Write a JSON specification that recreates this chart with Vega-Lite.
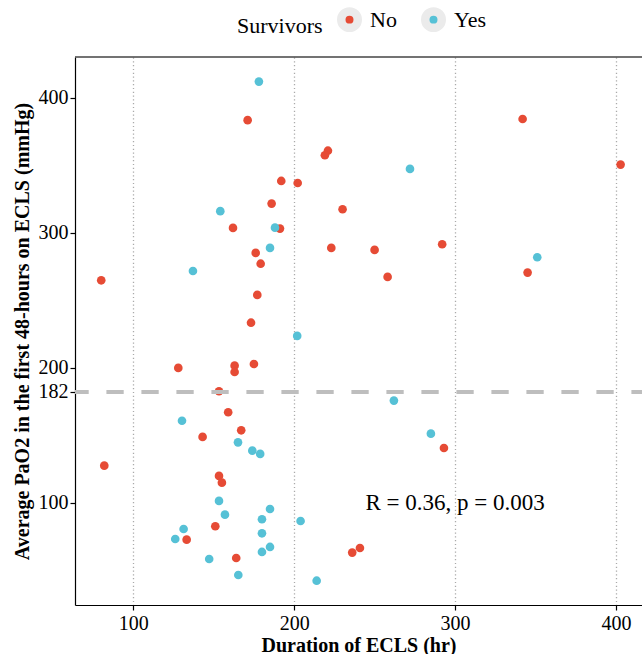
{
  "$schema": "https://vega.github.io/schema/vega-lite/v6.json",
  "width": 567,
  "height": 548,
  "autosize": {"type": "none"},
  "padding": {"left": 75, "top": 57, "right": 0, "bottom": 49},
  "background": "white",
  "config": {
    "view": {"stroke": null},
    "font": "Liberation Serif",
    "axis": {
      "labelFont": "Liberation Serif",
      "titleFont": "Liberation Serif",
      "labelFontSize": 20,
      "titleFontSize": 20,
      "labelColor": "#000000",
      "titleColor": "#000000",
      "domainColor": "#000000",
      "tickColor": "#000000",
      "domainWidth": 1.2,
      "tickWidth": 1.2,
      "tickSize": 5,
      "titleFontWeight": "bold"
    },
    "legend": {
      "labelFont": "Liberation Serif",
      "titleFont": "Liberation Serif"
    }
  },
  "datasets": {
    "pts": [
      {"Duration": 171.1, "PaO2": 383.3, "Survivors": "No"},
      {"Duration": 221.0, "PaO2": 360.7, "Survivors": "No"},
      {"Duration": 219.1, "PaO2": 357.3, "Survivors": "No"},
      {"Duration": 192.0, "PaO2": 338.3, "Survivors": "No"},
      {"Duration": 202.2, "PaO2": 336.8, "Survivors": "No"},
      {"Duration": 186.0, "PaO2": 321.5, "Survivors": "No"},
      {"Duration": 230.1, "PaO2": 317.3, "Survivors": "No"},
      {"Duration": 162.0, "PaO2": 303.5, "Survivors": "No"},
      {"Duration": 191.2, "PaO2": 303.0, "Survivors": "No"},
      {"Duration": 223.1, "PaO2": 288.7, "Survivors": "No"},
      {"Duration": 176.1, "PaO2": 285.0, "Survivors": "No"},
      {"Duration": 179.2, "PaO2": 277.0, "Survivors": "No"},
      {"Duration": 80.1, "PaO2": 264.7, "Survivors": "No"},
      {"Duration": 177.1, "PaO2": 253.9, "Survivors": "No"},
      {"Duration": 173.2, "PaO2": 233.3, "Survivors": "No"},
      {"Duration": 342.0, "PaO2": 384.2, "Survivors": "No"},
      {"Duration": 402.9, "PaO2": 350.4, "Survivors": "No"},
      {"Duration": 250.0, "PaO2": 287.2, "Survivors": "No"},
      {"Duration": 292.0, "PaO2": 291.4, "Survivors": "No"},
      {"Duration": 258.1, "PaO2": 267.2, "Survivors": "No"},
      {"Duration": 345.1, "PaO2": 270.4, "Survivors": "No"},
      {"Duration": 128.0, "PaO2": 199.8, "Survivors": "No"},
      {"Duration": 163.0, "PaO2": 201.5, "Survivors": "No"},
      {"Duration": 163.0, "PaO2": 196.8, "Survivors": "No"},
      {"Duration": 175.0, "PaO2": 202.7, "Survivors": "No"},
      {"Duration": 153.3, "PaO2": 182.5, "Survivors": "No"},
      {"Duration": 159.0, "PaO2": 167.0, "Survivors": "No"},
      {"Duration": 167.1, "PaO2": 153.6, "Survivors": "No"},
      {"Duration": 143.1, "PaO2": 148.7, "Survivors": "No"},
      {"Duration": 82.0, "PaO2": 127.4, "Survivors": "No"},
      {"Duration": 153.3, "PaO2": 119.8, "Survivors": "No"},
      {"Duration": 155.1, "PaO2": 114.8, "Survivors": "No"},
      {"Duration": 151.0, "PaO2": 82.5, "Survivors": "No"},
      {"Duration": 133.2, "PaO2": 72.6, "Survivors": "No"},
      {"Duration": 164.0, "PaO2": 59.0, "Survivors": "No"},
      {"Duration": 236.1, "PaO2": 63.0, "Survivors": "No"},
      {"Duration": 240.9, "PaO2": 66.4, "Survivors": "No"},
      {"Duration": 293.1, "PaO2": 140.5, "Survivors": "No"},
      {"Duration": 178.1, "PaO2": 411.9, "Survivors": "Yes"},
      {"Duration": 154.1, "PaO2": 315.9, "Survivors": "Yes"},
      {"Duration": 188.1, "PaO2": 303.7, "Survivors": "Yes"},
      {"Duration": 185.0, "PaO2": 288.7, "Survivors": "Yes"},
      {"Duration": 137.1, "PaO2": 271.6, "Survivors": "Yes"},
      {"Duration": 201.9, "PaO2": 223.5, "Survivors": "Yes"},
      {"Duration": 272.0, "PaO2": 347.2, "Survivors": "Yes"},
      {"Duration": 351.1, "PaO2": 281.8, "Survivors": "Yes"},
      {"Duration": 130.3, "PaO2": 160.7, "Survivors": "Yes"},
      {"Duration": 165.1, "PaO2": 144.7, "Survivors": "Yes"},
      {"Duration": 174.0, "PaO2": 138.5, "Survivors": "Yes"},
      {"Duration": 178.9, "PaO2": 136.1, "Survivors": "Yes"},
      {"Duration": 153.3, "PaO2": 101.3, "Survivors": "Yes"},
      {"Duration": 185.0, "PaO2": 95.3, "Survivors": "Yes"},
      {"Duration": 157.0, "PaO2": 91.1, "Survivors": "Yes"},
      {"Duration": 180.0, "PaO2": 87.7, "Survivors": "Yes"},
      {"Duration": 204.0, "PaO2": 86.4, "Survivors": "Yes"},
      {"Duration": 131.3, "PaO2": 80.5, "Survivors": "Yes"},
      {"Duration": 180.0, "PaO2": 77.3, "Survivors": "Yes"},
      {"Duration": 126.1, "PaO2": 73.1, "Survivors": "Yes"},
      {"Duration": 185.0, "PaO2": 67.2, "Survivors": "Yes"},
      {"Duration": 180.0, "PaO2": 63.5, "Survivors": "Yes"},
      {"Duration": 147.2, "PaO2": 58.3, "Survivors": "Yes"},
      {"Duration": 165.3, "PaO2": 46.4, "Survivors": "Yes"},
      {"Duration": 214.0, "PaO2": 42.2, "Survivors": "Yes"},
      {"Duration": 262.0, "PaO2": 175.6, "Survivors": "Yes"},
      {"Duration": 285.0, "PaO2": 151.1, "Survivors": "Yes"}
    ],
    "ref": [{"level": 182}],
    "border": [{"level": 430.1}],
    "note": [{"x": 300, "y": 100, "label": "R = 0.36, p = 0.003"}]
  },
  "layer": [
    {
      "data": {"name": "pts"},
      "mark": {"type": "point", "filled": true, "opacity": 1, "size": 75},
      "encoding": {
        "x": {
          "field": "Duration",
          "type": "quantitative",
          "scale": {"domain": [63.8, 416.2], "nice": false, "zero": false},
          "axis": {
            "title": "Duration of ECLS (hr)",
            "values": [100, 200, 300, 400],
            "grid": true,
            "gridColor": "#AAAAAA",
            "gridDash": [1.2, 2.6],
            "gridWidth": 1.3,
            "labelPadding": 3,
            "titlePadding": 2
          }
        },
        "y": {
          "field": "PaO2",
          "type": "quantitative",
          "scale": {"domain": [24.2, 430.1], "nice": false, "zero": false},
          "axis": {
            "title": "Average PaO2 in the first 48-hours on ECLS (mmHg)",
            "values": [100, 182, 200, 300, 400],
            "grid": false,
            "labelPadding": 2,
            "titlePadding": 6
          }
        },
        "color": {
          "field": "Survivors",
          "type": "nominal",
          "scale": {"domain": ["No", "Yes"], "range": ["#E64B35", "#56C1D6"]},
          "legend": {
            "orient": "none",
            "legendX": 162,
            "legendY": -50,
            "direction": "horizontal",
            "title": "Survivors",
            "titleOrient": "left",
            "titleFontSize": 22,
            "titleFontWeight": "normal",
            "titleColor": "#000000",
            "titlePadding": 14,
            "titleBaseline": "middle",
            "labelFontSize": 22,
            "labelColor": "#000000",
            "labelOffset": 8,
            "columnPadding": 11,
            "padding": 0,
            "symbolType": "circle",
            "symbolSize": 272,
            "symbolStrokeColor": "#EBEBEB",
            "symbolStrokeWidth": 8.5,
            "symbolOpacity": 1
          }
        }
      }
    },
    {
      "data": {"name": "ref"},
      "mark": {"type": "rule", "color": "#BEBEBE", "strokeWidth": 4, "strokeDash": [17.3, 17.7], "strokeDashOffset": 6.7},
      "encoding": {"y": {"field": "level", "type": "quantitative"}}
    },
    {
      "data": {"name": "border"},
      "mark": {"type": "rule", "color": "#444444", "strokeWidth": 1.5},
      "encoding": {"y": {"field": "level", "type": "quantitative"}}
    },
    {
      "data": {"name": "note"},
      "mark": {"type": "text", "font": "Liberation Serif", "fontSize": 23, "color": "#000000", "align": "center", "baseline": "middle"},
      "encoding": {
        "x": {"field": "x", "type": "quantitative"},
        "y": {"field": "y", "type": "quantitative"},
        "text": {"field": "label"}
      }
    }
  ]
}
